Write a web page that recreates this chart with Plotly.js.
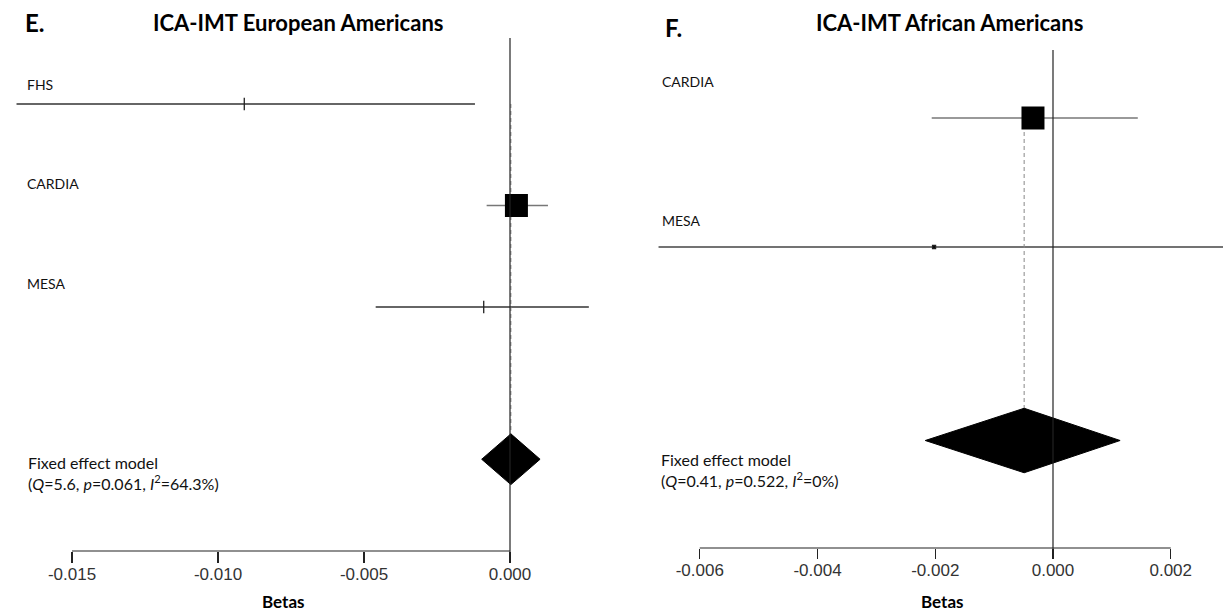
<!DOCTYPE html>
<html>
<head>
<meta charset="utf-8">
<script src="https://cdn.plot.ly/plotly-3.0.1.min.js"></script>
<style>html,body{margin:0;padding:0;background:#fff;}#chart{width:1223px;height:613px;}</style>
</head>
<body>
<div id="chart"></div>
<script>
// ---------- DATA ----------
const studiesE = ['FHS', 'CARDIA', 'MESA'];
const betaE = [-0.0091, 0.00022, -0.0009];
const lowerE = [-0.0169, -0.0008, -0.0046];
const upperE = [-0.0012, 0.0013, 0.0027];
const weightE = [1, 97, 2];
const fixedE = [0.00003, -0.00097, 0.00103];   // estimate, lower, upper
const statsE = ['5.6', '0.061', '64.3%'];     // Q, p, I2
const ticksE = [-0.015, -0.010, -0.005, 0.000];
const tickLabelsE = ['-0.015', '-0.010', '-0.005', '0.000'];

const studiesF = ['CARDIA', 'MESA'];
const betaF = [-0.00034, -0.00202];
const lowerF = [-0.00206, -0.0067];
const upperF = [0.00144, 0.0029];
const weightF = [97, 3];
const fixedF = [-0.00049, -0.00217, 0.00114];
const statsF = ['0.41', '0.522', '0%'];
const ticksF = [-0.006, -0.004, -0.002, 0.000, 0.002];
const tickLabelsF = ['-0.006', '-0.004', '-0.002', '0.000', '0.002'];

// ---------- STYLE / LAYOUT ----------
const W = 1223, H = 613;
const px = v => v / W;
const py = v => 1 - v / H;
const FONT = 'Lato, "Open Sans", sans-serif';
const TICKFONT = '"Liberation Sans", Arial, sans-serif';

function panel(opts) {
  const {studies, beta, lower, upper, weight, fixed, xa, ya, boxMax, smallSymbol, smallSize, ciColor} = opts;
  const n = studies.length;
  const rows = studies.map((s, i) => i + 1);
  const sumRow = n + 1.5;
  const traces = [];
  // CI lines
  studies.forEach((s, i) => {
    traces.push({x: [lower[i], upper[i]], y: [rows[i], rows[i]], xaxis: xa, yaxis: ya,
      mode: 'lines', line: {color: ciColor[i], width: 1.4}, hoverinfo: 'skip', showlegend: false});
  });
  // dashed line at fixed estimate
  traces.push({x: [fixed[0], fixed[0]], y: [rows[0], sumRow - 0.25], xaxis: xa, yaxis: ya,
    mode: 'lines', line: {color: '#888', width: 1, dash: '4px,3px'}, hoverinfo: 'skip', showlegend: false});
  // boxes
  const maxW = Math.max(...weight);
  const sizes = weight.map(w => boxMax * Math.sqrt(w / maxW));
  const big = [], small = [];
  sizes.forEach((s, i) => (s < 6 ? small : big).push(i));
  if (big.length) traces.push({x: big.map(i => beta[i]), y: big.map(i => rows[i]), xaxis: xa, yaxis: ya,
    mode: 'markers', showlegend: false, opacity: 1,
    marker: {symbol: 'square', size: big.map(i => sizes[i]), color: '#000', opacity: 1, line: {width: 0}},
    hoverinfo: 'skip'});
  if (small.length) traces.push({x: small.map(i => beta[i]), y: small.map(i => rows[i]), xaxis: xa, yaxis: ya,
    mode: 'markers', showlegend: false, opacity: 1,
    marker: {symbol: smallSymbol, size: smallSize, color: '#000', opacity: 1, line: {color: '#222', width: 1.3}},
    hoverinfo: 'skip'});
  // diamond
  traces.push({x: [fixed[1], fixed[0], fixed[2], fixed[0], fixed[1]],
    y: [sumRow, sumRow - 0.25, sumRow, sumRow + 0.25, sumRow], xaxis: xa, yaxis: ya,
    mode: 'lines', fill: 'toself', fillcolor: '#000', line: {color: '#000', width: 1},
    hoverinfo: 'skip', showlegend: false});
  return {traces, rows, sumRow};
}

const pE = panel({studies: studiesE, beta: betaE, lower: lowerE, upper: upperE, weight: weightE,
  fixed: fixedE, xa: 'x', ya: 'y', boxMax: 23, smallSymbol: 'line-ns', smallSize: 9, ciColor: ['#333', '#777', '#333']});
const pF = panel({studies: studiesF, beta: betaF, lower: lowerF, upper: upperF, weight: weightF,
  fixed: fixedF, xa: 'x2', ya: 'y2', boxMax: 23, smallSymbol: 'square', smallSize: 3, ciColor: ['#777', '#444']});

// pixel -> data mappings (left: 0 at px 510, 0.005 per 146px; right: 0 at px 1053, 0.002 per 117.75px)
const xRangeE = [(0 - 510) / 29200, (620 - 510) / 29200];
const xRangeF = [(650 - 1053) / 58875, (1223 - 1053) / 58875];
const SPE = 101.5, SPF = 129;
const yRangeE = [1 + (H - 104) / SPE, 1 - 104 / SPE];
const yRangeF = [1 + (H - 118) / SPF, 1 - 118 / SPF];
const axisRowE = 1 + (551 - 104) / SPE;
const axisRowF = 1 + (548 - 118) / SPF;

const shapes = [
  // zero lines
  {type: 'line', xref: 'x', yref: 'y', x0: 0, x1: 0, y0: 1 - (104 - 38) / SPE, y1: axisRowE + 11 / SPE, line: {color: '#222', width: 1.2}},
  {type: 'line', xref: 'x2', yref: 'y2', x0: 0, x1: 0, y0: 1 - (118 - 50) / SPF, y1: axisRowF + 10 / SPF, line: {color: '#222', width: 1.2}},
  // axis lines
  {type: 'line', xref: 'x', yref: 'y', x0: ticksE[0], x1: ticksE[ticksE.length - 1], y0: axisRowE, y1: axisRowE, line: {color: '#222', width: 1.2}},
  {type: 'line', xref: 'x2', yref: 'y2', x0: ticksF[0], x1: ticksF[ticksF.length - 1], y0: axisRowF, y1: axisRowF, line: {color: '#222', width: 1.2}}
];

const labelShiftE = [20, 22, 24];
const labelShiftF = [37, 27];
const annotations = [];
studiesE.forEach((s, i) => annotations.push({text: s, xref: 'paper', yref: 'y', x: px(25), y: pE.rows[i],
  yshift: labelShiftE[i], xanchor: 'left', yanchor: 'middle', showarrow: false, font: {family: FONT, size: 14, color: '#111'}}));
studiesF.forEach((s, i) => annotations.push({text: s, xref: 'paper', yref: 'y2', x: px(660), y: pF.rows[i],
  yshift: labelShiftF[i], xanchor: 'left', yanchor: 'middle', showarrow: false, font: {family: FONT, size: 14, color: '#111'}}));

function statText(st) {
  return 'Fixed effect model<br>(<i>Q</i>=' + st[0] + ', <i>p</i>=' + st[1] + ', <i>I</i><sup>2</sup>=' + st[2] + ')';
}
annotations.push({text: statText(statsE), xref: 'paper', yref: 'paper', x: px(26), y: py(451), xanchor: 'left', yanchor: 'top',
  align: 'left', showarrow: false, font: {family: FONT, size: 16, color: '#111'}});
annotations.push({text: statText(statsF), xref: 'paper', yref: 'paper', x: px(659), y: py(448), xanchor: 'left', yanchor: 'top',
  align: 'left', showarrow: false, font: {family: FONT, size: 16, color: '#111'}});

// titles & panel letters
annotations.push({text: '<b>E.</b>', xref: 'paper', yref: 'paper', x: px(23), y: py(22), xanchor: 'left', yanchor: 'middle', showarrow: false, font: {family: FONT, size: 24, color: '#000'}});
annotations.push({text: '<b>F.</b>', xref: 'paper', yref: 'paper', x: px(663), y: py(27), xanchor: 'left', yanchor: 'middle', showarrow: false, font: {family: FONT, size: 24, color: '#000'}});
annotations.push({text: '<b>ICA-IMT European Americans</b>', xref: 'paper', yref: 'paper', x: px(298), y: py(23), xanchor: 'center', yanchor: 'middle', showarrow: false, font: {family: FONT, size: 22, color: '#000'}});
annotations.push({text: '<b>ICA-IMT African Americans</b>', xref: 'paper', yref: 'paper', x: px(949), y: py(23), xanchor: 'center', yanchor: 'middle', showarrow: false, font: {family: FONT, size: 22, color: '#000'}});
annotations.push({text: '<b>Betas</b>', xref: 'paper', yref: 'paper', x: px(283), y: py(601), xanchor: 'center', yanchor: 'middle', showarrow: false, font: {family: FONT, size: 17, color: '#000'}});
annotations.push({text: '<b>Betas</b>', xref: 'paper', yref: 'paper', x: px(942), y: py(601), xanchor: 'center', yanchor: 'middle', showarrow: false, font: {family: FONT, size: 17, color: '#000'}});

const axisCommon = {showgrid: false, zeroline: false, showline: false, ticks: 'outside', tickcolor: '#222', tickwidth: 1.2,
  tickfont: {family: TICKFONT, size: 17, color: '#333'}, ticklabelstandoff: -3, fixedrange: true, anchor: 'free', tickmode: 'array'};

const layout = {
  width: W, height: H, margin: {l: 0, r: 0, t: 0, b: 0}, paper_bgcolor: '#fff', plot_bgcolor: 'rgba(0,0,0,0)',
  showlegend: false,
  xaxis: Object.assign({}, axisCommon, {domain: [0, px(620)], range: xRangeE, tickvals: ticksE, ticktext: tickLabelsE,
    ticklen: 11, position: 1 - 551 / H}),
  xaxis2: Object.assign({}, axisCommon, {domain: [px(650), 1], range: xRangeF, tickvals: ticksF, ticktext: tickLabelsF,
    ticklen: 10, position: 1 - 548 / H}),
  yaxis: {domain: [0, 1], range: yRangeE, visible: false, fixedrange: true, anchor: 'x'},
  yaxis2: {domain: [0, 1], range: yRangeF, visible: false, fixedrange: true, anchor: 'x2'},
  shapes, annotations
};

Plotly.newPlot('chart', pE.traces.concat(pF.traces), layout, {displayModeBar: false, staticPlot: true});
</script>
</body>
</html>
